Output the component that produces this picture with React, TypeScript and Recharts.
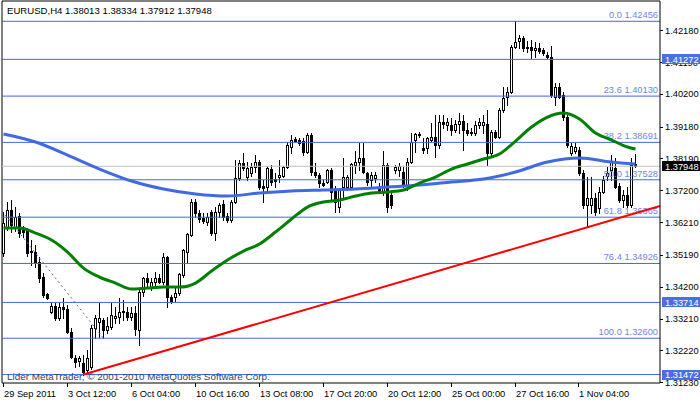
import React from 'react';
import { ComposedChart, Bar, Line, XAxis, YAxis, ReferenceLine } from 'recharts';

const opens = [
  1.35250,1.36058,1.36587,1.36058,1.36400,1.35996,1.35965,1.35312,1.35281,1.34970,
  1.34503,1.33975,1.33415,1.33602,1.33228,1.33570,1.33508,1.32793,1.31984,1.31891,
  1.31829,1.31611,1.31704,1.32917,1.33104,1.33166,1.32855,1.32948,1.33228,1.33260,
  1.33446,1.33415,1.33260,1.33384,1.32855,1.34037,1.34472,1.34192,1.34348,1.34472,
  1.34348,1.35125,1.33881,1.33881,1.34006,1.34566,1.35281,1.35810,1.36836,1.36494,
  1.36338,1.36214,1.36525,1.35872,1.36525,1.36774,1.36400,1.36276,1.36836,1.37582,
  1.38049,1.37613,1.37738,1.37924,1.38080,1.37334,1.37302,1.37862,1.37551,1.37613,
  1.37644,1.37924,1.38546,1.38795,1.38764,1.38733,1.38391,1.38920,1.37769,1.37676,
  1.37427,1.37458,1.37831,1.37209,1.36680,1.37302,1.37302,1.37302,1.37987,1.38080,
  1.38204,1.37738,1.37520,1.37582,1.37302,1.37147,1.37987,1.37054,1.37831,1.37831,
  1.37769,1.37365,1.38080,1.38764,1.38951,1.38515,1.38515,1.38764,1.38857,1.38609,
  1.39324,1.39231,1.39231,1.39075,1.39262,1.39355,1.39075,1.39013,1.38982,1.39231,
  1.39231,1.39262,1.38360,1.39013,1.38857,1.39697,1.40101,1.40257,1.41656,1.41843,
  1.41936,1.41656,1.41656,1.41563,1.41625,1.41563,1.41408,1.41345,1.40101,1.40412,
  1.40164,1.39479,1.38360,1.38422,1.38453,1.37738,1.36743,1.36743,1.36960,1.36649,
  1.37147,1.37644,1.37831,1.37893,1.37334,1.36898,1.37054,1.36743,1.38013,
];
const highs = [
  1.36525,1.36836,1.36898,1.36680,1.36494,1.36090,1.36027,1.35654,1.35499,1.35125,
  1.34628,1.34006,1.33695,1.33695,1.33695,1.33850,1.33633,1.32917,1.32078,1.32046,
  1.32078,1.32233,1.33011,1.33322,1.33695,1.33228,1.33260,1.33726,1.33570,1.33850,
  1.33788,1.33570,1.33570,1.33602,1.34099,1.34503,1.34628,1.34472,1.34659,1.34597,
  1.35250,1.35157,1.33944,1.34161,1.34628,1.35374,1.35872,1.36929,1.36929,1.36587,
  1.36494,1.36494,1.36587,1.36680,1.36805,1.36898,1.36494,1.36898,1.38142,1.38142,
  1.38360,1.38080,1.38049,1.38298,1.38142,1.37520,1.37955,1.37987,1.37738,1.38142,
  1.37955,1.38702,1.38920,1.38857,1.38826,1.38826,1.38982,1.38982,1.38049,1.37738,
  1.37520,1.37862,1.37893,1.37334,1.37209,1.38204,1.37676,1.38049,1.38422,1.38671,
  1.38671,1.37769,1.37769,1.37769,1.37427,1.38422,1.38049,1.37209,1.37987,1.38049,
  1.37924,1.38204,1.38982,1.38982,1.39013,1.38826,1.38857,1.39293,1.39542,1.39542,
  1.39542,1.39448,1.39448,1.39386,1.39604,1.39542,1.39293,1.39137,1.39355,1.39448,
  1.39542,1.39697,1.39075,1.39075,1.39759,1.40412,1.40412,1.41719,1.42456,1.42030,
  1.41998,1.41843,1.41874,1.41812,1.41781,1.41625,1.41501,1.41687,1.40537,1.40537,
  1.40257,1.39635,1.38671,1.38671,1.38546,1.37831,1.37613,1.37613,1.37116,1.37302,
  1.37644,1.37924,1.38298,1.38204,1.37427,1.37209,1.37302,1.38204,1.38334,
];
const lows = [
  1.35157,1.35965,1.35903,1.35934,1.35747,1.35747,1.35157,1.34877,1.34814,1.34348,
  1.33881,1.33819,1.33384,1.33166,1.33166,1.33228,1.32762,1.31984,1.31704,1.31736,
  1.31472,1.31549,1.31642,1.32606,1.32637,1.32606,1.32762,1.32886,1.33073,1.33073,
  1.33166,1.33166,1.33166,1.32700,1.32389,1.33912,1.34192,1.34099,1.34161,1.34317,
  1.34286,1.33570,1.33695,1.33757,1.33944,1.34503,1.34939,1.35778,1.36369,1.36214,
  1.36183,1.36121,1.35810,1.35654,1.36369,1.36276,1.36214,1.36214,1.36805,1.37520,
  1.37831,1.37520,1.37644,1.37769,1.37240,1.36836,1.37209,1.37365,1.37302,1.37458,
  1.37613,1.37893,1.38360,1.38702,1.38609,1.38298,1.38360,1.37676,1.37613,1.37302,
  1.37334,1.37427,1.36898,1.36525,1.36525,1.36991,1.37209,1.37271,1.37738,1.37831,
  1.37738,1.37365,1.37302,1.37458,1.37116,1.37054,1.36525,1.36649,1.37738,1.37644,
  1.37302,1.37209,1.38049,1.38391,1.38857,1.38360,1.38360,1.38702,1.38235,1.38515,
  1.39137,1.39075,1.38920,1.39013,1.38982,1.38453,1.38920,1.38920,1.38920,1.39137,
  1.38982,1.37987,1.38298,1.38826,1.38826,1.39635,1.39853,1.40226,1.41625,1.41625,
  1.41532,1.41501,1.41314,1.41345,1.41470,1.41408,1.41314,1.40101,1.39853,1.40070,
  1.39386,1.38546,1.38298,1.38360,1.37676,1.36649,1.36058,1.36494,1.36432,1.36494,
  1.37116,1.37520,1.37520,1.37271,1.36836,1.36680,1.36680,1.36680,1.37912,
];
const closes = [
  1.36183,1.36587,1.36121,1.36369,1.35872,1.35903,1.35250,1.35281,1.34939,1.34472,
  1.33944,1.33850,1.33602,1.33228,1.33570,1.33508,1.32793,1.32015,1.31860,1.31984,
  1.31549,1.31984,1.32917,1.33228,1.33228,1.32855,1.32979,1.33322,1.33291,1.33415,
  1.33415,1.33260,1.33384,1.32886,1.34037,1.34472,1.34348,1.34348,1.34472,1.34348,
  1.35125,1.33881,1.33757,1.34006,1.34597,1.35343,1.35841,1.36836,1.36494,1.36307,
  1.36245,1.36369,1.35872,1.36525,1.36743,1.36369,1.36276,1.36836,1.37582,1.38049,
  1.37893,1.37893,1.37924,1.38080,1.37302,1.37271,1.37893,1.37458,1.37489,1.37676,
  1.37924,1.38609,1.38764,1.38733,1.38671,1.38391,1.38920,1.37769,1.37676,1.37427,
  1.37365,1.37831,1.37147,1.36836,1.37209,1.37613,1.37613,1.38013,1.38080,1.38204,
  1.37769,1.37458,1.37676,1.37676,1.37147,1.37987,1.36680,1.36743,1.37924,1.37955,
  1.37365,1.38080,1.38702,1.38951,1.38935,1.38453,1.38826,1.38857,1.38609,1.39324,
  1.39262,1.39324,1.39075,1.39262,1.39355,1.39075,1.38982,1.38982,1.39231,1.39324,
  1.39324,1.38360,1.39013,1.38857,1.39697,1.40070,1.40257,1.41656,1.41812,1.41936,
  1.41625,1.41625,1.41563,1.41625,1.41532,1.41470,1.41345,1.40164,1.40412,1.40101,
  1.39479,1.38609,1.38577,1.38546,1.37738,1.36743,1.36960,1.36960,1.36525,1.37147,
  1.37520,1.37738,1.38080,1.37302,1.36898,1.37054,1.36743,1.37987,1.37948,
];

// Green moving average, read at every 4th bar
const fastMaBars = [0,4,8,12,16,20,24,28,32,36,40,44,48,52,56,60,64,68,72,76,80,84,88,92,96,100,104,108,112,116,120,124,128,132,136,140,144,148,152,156,158];
const fastMaValues = [1.36027,1.36027,1.35872,1.35654,1.35281,1.34783,1.34503,1.34317,1.34130,1.34161,1.34192,1.34192,1.34317,1.34690,1.35032,1.35312,1.35530,1.35903,1.36307,1.36680,1.36836,1.36898,1.37022,1.37116,1.37147,1.37209,1.37427,1.37613,1.37862,1.38018,1.38173,1.38329,1.38733,1.39168,1.39479,1.39604,1.39417,1.38982,1.38764,1.38546,1.38484];
// Blue moving average, read at every 8th bar
const slowMaBars = [0,8,16,24,32,40,48,56,64,72,80,88,96,104,112,120,128,136,144,152,158];
const slowMaValues = [1.38951,1.38702,1.38298,1.37862,1.37489,1.37240,1.37085,1.37022,1.37116,1.37178,1.37209,1.37240,1.37302,1.37365,1.37458,1.37551,1.37769,1.38080,1.38204,1.38080,1.38018];

const fibLevels = ['0.0', '23.6', '38.2', '50.0', '61.8', '76.4', '100.0'];
const fibPrices = [1.42456, 1.40130, 1.38691, 1.37528, 1.36365, 1.34926, 1.32600];
const levelPrices = [1.41272, 1.33714, 1.31472];
const bidPrice = 1.37948;
const priceTicks = [1.42180, 1.41190, 1.40200, 1.39180, 1.38190, 1.37200, 1.36210, 1.35190, 1.34200, 1.33210, 1.32220, 1.31230];
const timeTickBars = [0, 16, 32, 48, 64, 80, 96, 112, 128, 144];
const timeTickLabels = ['29 Sep 2011', '3 Oct 12:00', '6 Oct 04:00', '10 Oct 16:00', '13 Oct 08:00', '17 Oct 20:00', '20 Oct 12:00', '25 Oct 00:00', '27 Oct 16:00', '1 Nov 04:00'];
const trendBars = [20, 164.125];
const trendPrices = [1.31472, 1.36711];
const fibRayBars = [-0.375, 25];
const fibRayPrices = [1.36556, 1.32600];
const titleText = 'EURUSD,H4  1.38013 1.38334 1.37912 1.37948';
const footerText = 'Lider MetaTrader, \u00a9 2001-2010 MetaQuotes Software Corp.';

const X_DOMAIN = [-0.375, 164.125];
const Y_DOMAIN = [1.31209, 1.43087];
const FONT = '"Liberation Sans", Arial, sans-serif';
const LINE_BLUE = '#4169E1';
const LABEL_BLUE = '#7084e4';

const data = opens.map((o, i) => {
  const fi = fastMaBars.indexOf(i);
  const si = slowMaBars.indexOf(i);
  return {
    i,
    open: o,
    high: highs[i],
    low: lows[i],
    close: closes[i],
    range: [lows[i], highs[i]],
    fast: fi >= 0 ? fastMaValues[fi] : null,
    slow: si >= 0 ? slowMaValues[si] : null,
  };
});

const Candle = (props: any) => {
  const { x, y, width, height, payload } = props;
  if (!payload || x == null || y == null) return null;
  const { open, close, high, low } = payload;
  const top = Math.min(y, y + height);
  const h = Math.abs(height);
  const cx = Math.round(x + width / 2 - 0.5) + 0.5;
  const span = high - low;
  const ppu = span > 0 ? h / span : 0;
  const yOf = (p: number) => top + (high - p) * ppu;
  const yo = yOf(open);
  const yc = yOf(close);
  const bTop = Math.round(Math.min(yo, yc)) + 0.5;
  const bBot = Math.round(Math.max(yo, yc)) + 0.5;
  const bull = close >= open;
  return (
    <g>
      <line x1={cx} x2={cx} y1={Math.round(top)} y2={Math.round(top + h) + 1} stroke="#000" strokeWidth={1} />
      <rect x={cx - 1} y={bTop} width={2} height={Math.max(bBot - bTop, 0)} fill={bull ? '#fff' : '#000'} stroke="#000" strokeWidth={1} />
    </g>
  );
};

const FibLabel = (props: any) => {
  const { viewBox, text } = props;
  if (!viewBox) return null;
  return (
    <text x={viewBox.x + viewBox.width - 2} y={viewBox.y - 3} textAnchor="end" fill={LABEL_BLUE} fontSize={9.3} fontFamily={FONT}>
      {text}
    </text>
  );
};

const PriceTick = (props: any) => {
  const { x, y, payload } = props;
  const v: number = payload.value;
  const boxIdx = levelPrices.indexOf(v);
  const isBid = v === bidPrice;
  if (boxIdx >= 0 || isBid) {
    return (
      <g>
        <rect x={x + 2} y={Math.round(y) - 5} width={40} height={10} fill={isBid ? '#000' : '#4a6fe3'} />
        <text x={x + 5} y={y + 3.5} fill="#fff" fontSize={9.3} fontFamily={FONT}>{v.toFixed(5)}</text>
      </g>
    );
  }
  return (
    <g>
      <line x1={x} x2={x + 3} y1={Math.round(y) + 0.5} y2={Math.round(y) + 0.5} stroke="#000" />
      <text x={x + 5} y={y + 3.5} fill="#000" fontSize={9.3} fontFamily={FONT}>{v.toFixed(5)}</text>
    </g>
  );
};

const TimeTick = (props: any) => {
  const { x, y, payload } = props;
  const idx = timeTickBars.indexOf(payload.value);
  const tx = Math.round(x) - 0.5;
  return (
    <g>
      <line x1={tx} x2={tx} y1={y} y2={y + 4} stroke="#000" />
      <text x={tx + 0.5} y={y + 14} fill="#000" fontSize={9.3} fontFamily={FONT}>{idx >= 0 ? timeTickLabels[idx] : ''}</text>
    </g>
  );
};

export default function App() {
  return (
    <div style={{ position: 'absolute', left: 0, top: 0, width: 700, height: 402, background: '#fff' }}>
      <ComposedChart width={700} height={402} data={data} margin={{ top: 1, right: 0, bottom: 0, left: 2 }}>
        <XAxis
          dataKey="i"
          type="number"
          domain={X_DOMAIN}
          allowDataOverflow
          ticks={timeTickBars}
          interval={0}
          height={19}
          tickSize={0}
          tickMargin={0}
          tickLine={false}
          axisLine={{ stroke: '#000' }}
          tick={<TimeTick />}
        />
        <YAxis
          orientation="right"
          type="number"
          domain={Y_DOMAIN}
          allowDataOverflow
          ticks={[...priceTicks, ...levelPrices, bidPrice]}
          interval={0}
          width={40}
          tickSize={0}
          tickMargin={0}
          tickLine={false}
          axisLine={{ stroke: '#000' }}
          tick={<PriceTick />}
        />
        <ReferenceLine x={X_DOMAIN[0]} stroke="#000" ifOverflow="visible" />
        <ReferenceLine y={Y_DOMAIN[1]} stroke="#000" ifOverflow="visible" />
        {levelPrices.map((p) => (
          <ReferenceLine key={'lv' + p} y={p} stroke={LINE_BLUE} strokeWidth={1} />
        ))}
        {fibPrices.map((p, k) => (
          <ReferenceLine key={'fib' + p} y={p} stroke={LINE_BLUE} strokeWidth={1} label={<FibLabel text={fibLevels[k] + ' ' + p.toFixed(5)} />} />
        ))}
        <ReferenceLine y={bidPrice} stroke="#c0c0c0" strokeWidth={1} />
        <ReferenceLine
          segment={[{ x: fibRayBars[0], y: fibRayPrices[0] }, { x: fibRayBars[1], y: fibRayPrices[1] }]}
          stroke={LINE_BLUE}
          strokeWidth={1}
          strokeDasharray="2 3"
          ifOverflow="visible"
        />
        <Bar dataKey="range" barSize={3} shape={<Candle />} isAnimationActive={false} />
        <Line dataKey="slow" type="monotone" stroke={LINE_BLUE} strokeWidth={3} dot={false} connectNulls isAnimationActive={false} />
        <Line dataKey="fast" type="monotone" stroke="#008000" strokeWidth={3} dot={false} connectNulls isAnimationActive={false} />
        <ReferenceLine
          segment={[{ x: trendBars[0], y: trendPrices[0] }, { x: trendBars[1], y: trendPrices[1] }]}
          stroke="#ff0000"
          strokeWidth={2}
          ifOverflow="visible"
        />
      </ComposedChart>
      <svg width={700} height={402} style={{ position: 'absolute', left: 0, top: 0, pointerEvents: 'none' }}>
        <text x={7} y={14} fill="#000" fontSize={9.6} fontFamily={FONT}>{titleText}</text>
        <text x={7} y={380} fill="#3b4157" fontSize={9.9} fontFamily={FONT}>{footerText}</text>
      </svg>
    </div>
  );
}
